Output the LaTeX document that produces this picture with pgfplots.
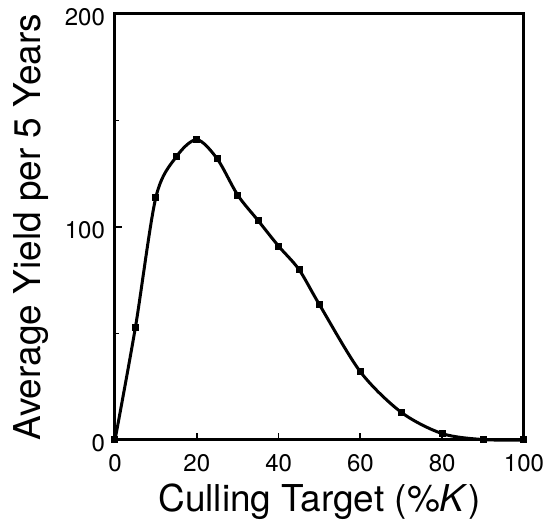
\documentclass[border=0pt]{standalone}
\usepackage{fontspec}
\setmainfont{TeX Gyre Heros}
\usepackage{pgfplots}
\pgfplotsset{compat=1.18}
\usetikzlibrary{calc}

% Average yield per 5 years against culling target
\pgfplotstableread{
target yield
0    0
5    53
10   114
15   133
20   141
25   132
30   115
35   103
40   91
45   80
50   63.5
60   32
70   13
80   3
90   0.2
100  0
}\yieldtable

\begin{document}
\begin{tikzpicture}
\begin{axis}[
  scale only axis,
  width=204.5pt, height=213pt,
  xmin=0, xmax=100, ymin=0, ymax=200,
  axis line style={line width=1.5pt},
  tick align=inside,
  xtick={0,20,40,60,80,100},
  ytick={0,100,200},
  minor ytick={50,150},
  xtick pos=bottom, ytick pos=left,
  major tick length=3.5pt,
  minor tick length=2pt,
  tick style={line width=0.9pt, black},
  /pgf/number format/assume math mode=true,
  tick label style={font=\fontsize{12}{14}\selectfont},
  xticklabel style={yshift=-3.5pt},
  yticklabel style={xshift=-1.5pt, yshift=-1.5pt},
  xlabel={Culling Target (\%\textit{K})},
  ylabel={Average Yield per 5 Years},
  label style={font=\fontsize{18.5}{22}\selectfont},
  xlabel style={at={(axis description cs:0.5,0)}, anchor=base, yshift=-36pt},
  ylabel style={at={(axis description cs:0,0.5)}, anchor=base, yshift=37pt},
  clip=false,
]
\addplot[black, line width=1.5pt, smooth, tension=0.5,
  mark=square*, mark size=1pt, mark options={solid, fill=black}]
  table[x=target, y=yield] {\yieldtable};
\end{axis}
\pgfresetboundingbox
\path ($(current axis.south west)+(-57.5pt,-42pt)$) rectangle ($(current axis.north east)+(12pt,7pt)$);
\end{tikzpicture}
\end{document}
